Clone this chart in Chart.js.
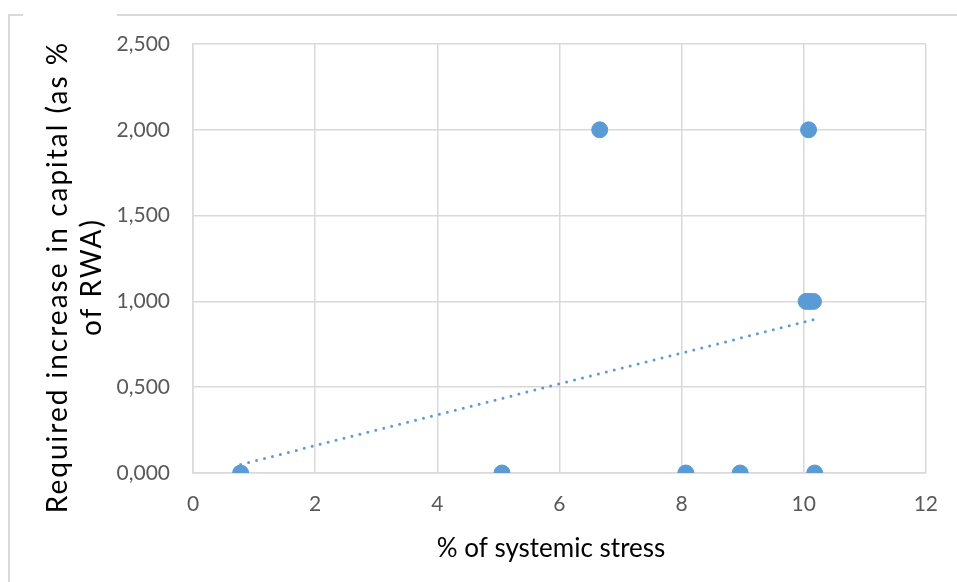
<!DOCTYPE html>
<html>
<head>
<meta charset="utf-8">
<script src="https://cdn.jsdelivr.net/npm/chart.js@4/dist/chart.umd.min.js"></script>
<style>
  html, body { margin: 0; padding: 0; background: #ffffff; }
  #wrap { width: 957px; height: 582px; position: relative; }
</style>
</head>
<body>
<div id="wrap"><canvas id="chart" width="957" height="582"></canvas></div>
<script>
// Observations: share of systemic stress vs. required capital increase
const stressPct       = [0.78, 5.06, 6.66, 8.07, 8.96, 10.08, 10.04, 10.10, 10.16, 10.18];
const capitalIncrease = [0,    0,    2,    0,    0,    2,     1,     1,     1,     0];

// Axis tick values
const xTicks = [0, 2, 4, 6, 8, 10, 12];
const yTicks = [0, 0.5, 1, 1.5, 2, 2.5];

const xTitle = '% of systemic stress';
const yTitle = ['Required increase in capital (as %', 'of RWA)'];

const FONT = 'Lato, "Open Sans", sans-serif';
const BLUE = '#5b9bd5';
const GRID = '#d9d9d9';

// Least-squares linear trend across the observations
function linearTrend(xs, ys) {
  const n = xs.length;
  const mx = xs.reduce((a, b) => a + b, 0) / n;
  const my = ys.reduce((a, b) => a + b, 0) / n;
  let sxy = 0, sxx = 0;
  for (let i = 0; i < n; i++) {
    sxy += (xs[i] - mx) * (ys[i] - my);
    sxx += (xs[i] - mx) * (xs[i] - mx);
  }
  const slope = sxy / sxx;
  const icpt = my - slope * mx;
  const x0 = Math.min(...xs), x1 = Math.max(...xs);
  return [{ x: x0, y: icpt + slope * x0 }, { x: x1, y: icpt + slope * x1 }];
}

const points = stressPct.map((x, i) => ({ x, y: capitalIncrease[i] }));
const trend = linearTrend(stressPct, capitalIncrease);

const fmtComma = v => v.toFixed(3).replace('.', ',');

// Outer frame and axis titles
const framePlugin = {
  id: 'frame',
  beforeDraw(chart) {
    const ctx = chart.ctx;
    ctx.save();
    ctx.strokeStyle = GRID;
    ctx.lineWidth = 2;
    ctx.beginPath();
    ctx.moveTo(9, 582);
    ctx.lineTo(9, 15);
    ctx.lineTo(23, 15);
    ctx.moveTo(117, 15);
    ctx.lineTo(957, 15);
    ctx.stroke();
    ctx.restore();
  },
  afterDraw(chart) {
    const ctx = chart.ctx;
    ctx.save();
    ctx.fillStyle = '#000000';
    ctx.font = '26px ' + FONT;
    ctx.textAlign = 'center';
    ctx.textBaseline = 'middle';
    ctx.fillText(xTitle, 551, 549);
    ctx.font = '28px ' + FONT;
    if ('letterSpacing' in ctx) ctx.letterSpacing = '2px';
    const cy = 277;
    const xs = [58, 92];
    yTitle.forEach((line, i) => {
      ctx.save();
      ctx.translate(xs[i], cy);
      ctx.rotate(-Math.PI / 2);
      ctx.fillText(line, 0, 0);
      ctx.restore();
    });
    ctx.restore();
  }
};

new Chart(document.getElementById('chart'), {
  type: 'scatter',
  data: {
    datasets: [
      {
        label: 'Observations',
        data: points,
        backgroundColor: BLUE,
        borderColor: BLUE,
        pointRadius: 8,
        pointHoverRadius: 8,
        order: 1
      },
      {
        label: 'Linear trend',
        type: 'line',
        data: trend,
        borderColor: BLUE,
        borderWidth: 3,
        borderDash: [0, 8.2],
        borderCapStyle: 'round',
        pointRadius: 0,
        fill: false,
        order: 2
      }
    ]
  },
  plugins: [framePlugin],
  options: {
    responsive: false,
    animation: false,
    events: [],
    layout: { padding: { left: 0, top: 44, right: 31, bottom: 0 } },
    plugins: { legend: { display: false }, tooltip: { enabled: false } },
    scales: {
      x: {
        type: 'linear',
        min: 0, max: 12,
        afterBuildTicks: s => { s.ticks = xTicks.map(v => ({ value: v })); },
        afterFit: s => { s.height = 109; },
        grid: { color: GRID, lineWidth: 1.5, drawTicks: false },
        border: { display: true, color: GRID, width: 1.5 },
        ticks: {
          color: '#595959',
          font: { family: FONT, size: 21 },
          padding: 19,
          callback: v => String(v)
        },
        title: { display: false }
      },
      y: {
        type: 'linear',
        min: 0, max: 2.5,
        afterBuildTicks: s => { s.ticks = yTicks.map(v => ({ value: v })); },
        afterFit: s => { s.width = 193; },
        grid: { color: GRID, lineWidth: 1.5, drawTicks: false },
        border: { display: true, color: GRID, width: 1.5 },
        ticks: {
          color: '#595959',
          font: { family: FONT, size: 21 },
          padding: 23,
          callback: v => fmtComma(v)
        },
        title: { display: false }
      }
    }
  }
});
</script>
</body>
</html>
